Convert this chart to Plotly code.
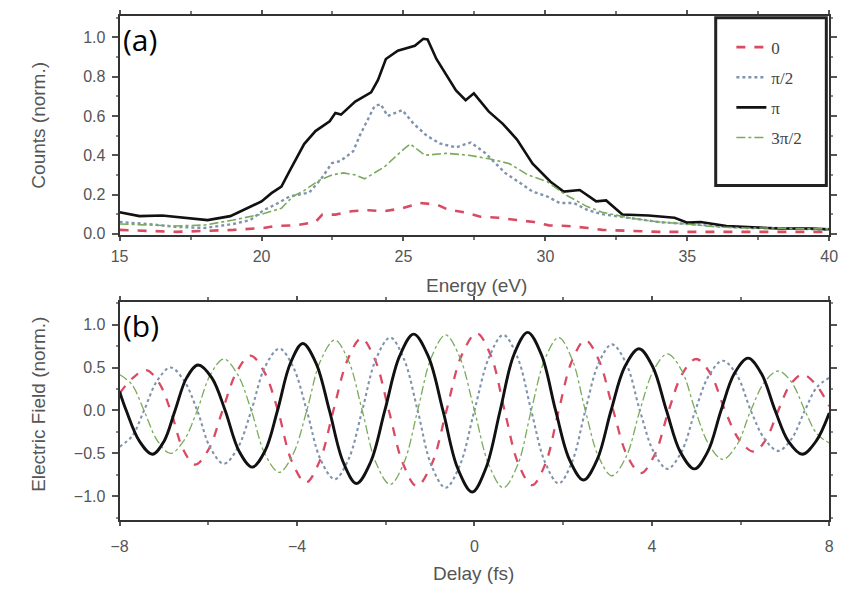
import plotly.graph_objects as go

# ---------------- Panel (a): spectra ----------------
E_pi = [15.0, 15.7, 16.5, 17.1, 18.1, 18.9, 19.4, 20.0, 20.35, 20.7, 21.0, 21.5, 21.9, 22.4, 22.6, 22.8,
        23.3, 23.86, 24.1, 24.38, 24.8, 25.2, 25.4, 25.7, 25.85, 26.16, 26.5, 26.85, 27.19, 27.48, 28.0,
        28.5, 29.0, 29.55, 30.18, 30.64, 31.21, 31.79, 32.14, 32.71, 33.63, 34.55, 35.0, 35.47, 36.38,
        37.07, 38.23, 39.38, 40.0]
C_pi = [0.11, 0.09, 0.093, 0.085, 0.07, 0.09, 0.123, 0.165, 0.207, 0.24, 0.323, 0.457, 0.523, 0.573, 0.615,
        0.607, 0.673, 0.72, 0.782, 0.89, 0.932, 0.948, 0.957, 0.993, 0.99, 0.89, 0.81, 0.73, 0.68, 0.715,
        0.623, 0.56, 0.48, 0.357, 0.265, 0.215, 0.223, 0.165, 0.17, 0.098, 0.093, 0.082, 0.057, 0.06, 0.04,
        0.035, 0.027, 0.027, 0.023]

E_hp = [15.0, 16.0, 17.0, 18.0, 19.0, 19.6, 20.07, 20.5, 20.99, 21.68, 22.1, 22.48, 22.77, 23.23, 23.46,
        23.69, 23.98, 24.2, 24.44, 24.96, 25.36, 25.82, 26.28, 26.85, 27.37, 27.89, 28.58, 29.1, 29.55,
        30.07, 30.5, 31.0, 31.5, 32.0, 33.0, 34.0, 35.0, 36.0, 37.0, 38.0, 39.0, 40.0]
C_hp = [0.06, 0.05, 0.035, 0.03, 0.05, 0.07, 0.12, 0.15, 0.19, 0.21, 0.28, 0.36, 0.37, 0.42, 0.5, 0.57,
        0.65, 0.66, 0.6, 0.63, 0.56, 0.5, 0.46, 0.44, 0.465, 0.41, 0.31, 0.26, 0.215, 0.19, 0.157, 0.157,
        0.12, 0.1, 0.08, 0.06, 0.05, 0.04, 0.03, 0.03, 0.025, 0.02]

E_3hp = [15.0, 16.0, 17.0, 18.0, 19.0, 20.0, 20.7, 21.1, 21.5, 22.0, 22.48, 22.88, 23.3, 23.63, 24.32,
         25.0, 25.24, 25.76, 26.5, 27.3, 28.1, 28.74, 29.38, 30.07, 30.7, 31.45, 32.0, 33.0, 34.0, 35.0,
         36.0, 37.0, 38.0, 39.0, 40.0]
C_3hp = [0.05, 0.045, 0.04, 0.045, 0.07, 0.1, 0.13, 0.19, 0.22, 0.27, 0.30, 0.31, 0.30, 0.28, 0.34, 0.43,
         0.457, 0.40, 0.41, 0.40, 0.38, 0.357, 0.30, 0.265, 0.2, 0.14, 0.11, 0.08, 0.06, 0.05, 0.035, 0.03,
         0.03, 0.025, 0.025]

E_0 = [15.0, 16.0, 17.0, 18.0, 19.0, 20.07, 20.5, 21.2, 21.9, 22.14, 22.6, 23.17, 23.75, 24.32, 24.96,
       25.59, 26.2, 26.57, 27.14, 27.71, 28.34, 28.98, 29.6, 30.13, 30.76, 31.5, 32.0, 33.0, 34.0, 36.0,
       38.0, 40.0]
C_0 = [0.02, 0.015, 0.01, 0.015, 0.02, 0.03, 0.04, 0.043, 0.06, 0.098, 0.098, 0.115, 0.12, 0.115, 0.13,
       0.157, 0.148, 0.123, 0.11, 0.087, 0.082, 0.07, 0.06, 0.043, 0.04, 0.03, 0.02, 0.015, 0.01, 0.01,
       0.01, 0.01]

# ---------------- Panel (b): electric fields ----------------
t_pi = [-8.0, -7.85, -7.55, -7.26, -7.0, -6.75, -6.49, -6.23, -5.92, -5.62, -5.31, -5.01, -4.72, -4.44,
        -4.15, -3.87, -3.57, -3.27, -2.96, -2.66, -2.34, -2.02, -1.69, -1.37, -1.04, -0.71, -0.38, -0.05,
        0.26, 0.58, 0.89, 1.2, 1.51, 1.83, 2.14, 2.46, 2.77, 3.08, 3.39, 3.71, 4.02, 4.33, 4.64, 4.96,
        5.26, 5.56, 5.86, 6.17, 6.47, 6.78, 7.08, 7.39, 7.7, 8.0]
F_pi = [0.22, 0.0, -0.36, -0.51, -0.36, 0.0, 0.38, 0.53, 0.38, 0.0, -0.47, -0.66, -0.47, 0.0,
        0.55, 0.78, 0.55, 0.0, -0.6, -0.85, -0.6, 0.0, 0.63, 0.89, 0.63, 0.0, -0.67, -0.95,
        -0.67, 0.0, 0.65, 0.91, 0.65, 0.0, -0.57, -0.81, -0.57, 0.0, 0.51, 0.72, 0.51, 0.0, -0.48, -0.68,
        -0.48, 0.0, 0.43, 0.61, 0.43, 0.0, -0.36, -0.51, -0.36, -0.03]

t_0 = [-8.0, -7.7, -7.4, -7.12, -6.85, -6.57, -6.3, -5.99, -5.68, -5.36, -5.05, -4.74, -4.43, -4.12,
       -3.8, -3.49, -3.18, -2.86, -2.55, -2.24, -1.93, -1.61, -1.3, -0.96, -0.63, -0.29, 0.05, 0.37,
       0.68, 0.99, 1.3, 1.6, 1.9, 2.2, 2.5, 2.81, 3.13, 3.44, 3.75, 4.06, 4.38, 4.69, 5.0, 5.32, 5.65,
       5.97, 6.3, 6.57, 6.85, 7.12, 7.4, 7.7, 8.0]
F_0 = [0.2, 0.38, 0.47, 0.33, 0.0, -0.45, -0.63, -0.45, 0.0, 0.45, 0.64, 0.45, 0.0, -0.59,
       -0.84, -0.59, 0.0, 0.59, 0.84, 0.59, 0.0, -0.62, -0.88, -0.62, 0.0, 0.64, 0.9, 0.64,
       0.0, -0.62, -0.87, -0.62, 0.0, 0.58, 0.82, 0.58, 0.0, -0.52, -0.73, -0.52, 0.0, 0.43, 0.6, 0.43, 0.0,
       -0.34, -0.48, -0.34, 0.0, 0.3, 0.42, 0.3, 0.05]

t_hp = [-8.0, -7.72, -7.45, -7.15, -6.85, -6.55, -6.25, -5.95, -5.65, -5.34, -5.03, -4.72, -4.4, -4.09,
        -3.78, -3.47, -3.15, -2.84, -2.53, -2.22, -1.9, -1.59, -1.28, -0.97, -0.65, -0.33, 0.0, 0.33,
        0.65, 0.97, 1.28, 1.59, 1.9, 2.2, 2.5, 2.8, 3.1, 3.42, 3.73, 4.04, 4.35, 4.67, 4.98, 5.29, 5.6,
        5.92, 6.23, 6.54, 6.85, 7.15, 7.45, 7.72, 8.0]
F_hp = [-0.42, -0.3, 0.0, 0.35, 0.5, 0.35, 0.0, -0.44, -0.62, -0.44, 0.0, 0.51, 0.72, 0.51,
        0.0, -0.57, -0.8, -0.57, 0.0, 0.6, 0.85, 0.6, 0.0, -0.64, -0.9, -0.64, 0.0, 0.62,
        0.88, 0.62, 0.0, -0.6, -0.85, -0.6, 0.0, 0.55, 0.77, 0.55, 0.0, -0.48, -0.68, -0.48, 0.0, 0.41, 0.58,
        0.41, 0.0, -0.33, -0.47, -0.33, 0.0, 0.27, 0.38]

t_3hp = [-8.0, -7.72, -7.45, -7.15, -6.85, -6.55, -6.25, -5.95, -5.65, -5.34, -5.03, -4.72, -4.4, -4.09,
         -3.78, -3.47, -3.15, -2.84, -2.53, -2.22, -1.9, -1.59, -1.28, -0.97, -0.65, -0.33, 0.0, 0.33,
         0.65, 0.97, 1.28, 1.59, 1.9, 2.2, 2.5, 2.8, 3.1, 3.42, 3.73, 4.04, 4.35, 4.67, 4.98, 5.29, 5.6,
         5.92, 6.23, 6.54, 6.85, 7.15, 7.45, 7.72, 8.0]
F_3hp = [0.42, 0.3, 0.0, -0.35, -0.5, -0.35, 0.0, 0.42, 0.6, 0.42, 0.0, -0.51, -0.72, -0.51,
         0.0, 0.58, 0.82, 0.58, 0.0, -0.61, -0.86, -0.61, 0.0, 0.62, 0.88, 0.62, 0.0, -0.64,
         -0.9, -0.64, 0.0, 0.6, 0.85, 0.6, 0.0, -0.54, -0.76, -0.54, 0.0, 0.47, 0.66, 0.47, 0.0, -0.4, -0.57,
         -0.4, 0.0, 0.33, 0.46, 0.33, 0.0, -0.27, -0.38]

names = ["0", "π/2", "π", "3π/2"]
colors = ["#d94a63", "#7f93ad", "#111111", "#7aab5c"]
dashes = ["dash", "dot", "solid", "dashdot"]
widths = [2.6, 2.4, 2.6, 1.6]

W, H = 850, 597
def px(x):
    return x / W
def py(y):
    return 1 - y / H

fig = go.Figure()

spectra = [(E_0, C_0), (E_hp, C_hp), (E_pi, C_pi), (E_3hp, C_3hp)]
fields = [(t_0, F_0), (t_hp, F_hp), (t_pi, F_pi), (t_3hp, F_3hp)]

for i, (xs, ys) in enumerate(spectra):
    fig.add_trace(go.Scatter(x=xs, y=ys, mode="lines", name=names[i], xaxis="x", yaxis="y",
                             line=dict(color=colors[i], dash=dashes[i], width=widths[i]),
                             legendgroup=names[i]))
for i in [0, 1, 3, 2]:
    xs, ys = fields[i]
    fig.add_trace(go.Scatter(x=xs, y=ys, mode="lines", name=names[i], xaxis="x2", yaxis="y2",
                             line=dict(color=colors[i], dash=dashes[i],
                                       width=(widths[i] - 0.3) if i != 2 else 2.9,
                                       shape="spline", smoothing=1.0),
                             showlegend=False))

tickfont = dict(family="Liberation Sans, Arial, sans-serif", size=16, color="#555555")
axis_common = dict(showline=True, linecolor="#333333", linewidth=2, mirror="ticks", ticks="outside",
                   tickwidth=1.5, tickcolor="#555555", showgrid=False, zeroline=False,
                   tickfont=tickfont)

fig.update_layout(
    width=W, height=H, margin=dict(l=0, r=0, t=0, b=0),
    paper_bgcolor="white", plot_bgcolor="white",
    xaxis=dict(domain=[px(113), px(838)], anchor="y", range=[15, 40], dtick=5, tick0=15, ticklen=4,
               ticklabelstandoff=2,
               minor=dict(dtick=2.5, ticks="outside", ticklen=3, tickcolor="#777777"), **axis_common),
    yaxis=dict(domain=[py(238), py(16)], anchor="x", range=[-0.005, 1.11], dtick=0.2, tick0=0, ticklen=6,
               ticklabelstandoff=3, tickformat=".1f",
               minor=dict(dtick=0.1, ticks="outside", ticklen=2, tickcolor="#888888"),
               **axis_common),
    xaxis2=dict(domain=[px(113), px(838)], anchor="y2", range=[-8, 8], dtick=4, tick0=-8, ticklen=4,
                ticklabelstandoff=7,
                minor=dict(dtick=2, ticks="outside", ticklen=3, tickcolor="#777777"), **axis_common),
    yaxis2=dict(domain=[py(527), py(306)], anchor="x2", range=[-1.275, 1.265], dtick=0.5, tick0=0,
                ticklen=6, ticklabelstandoff=3, tickformat=".1f",
                minor=dict(dtick=0.25, ticks="outside", ticklen=2, tickcolor="#888888"),
                **axis_common),
    showlegend=True,
    legend=dict(x=px(738), y=py(30), xanchor="left", yanchor="top", bgcolor="rgba(0,0,0,0)",
                borderwidth=0, tracegroupgap=5,
                font=dict(family="Liberation Serif, Times New Roman, serif", size=17, color="#444444")),
)

# legend frame
fig.add_shape(type="rect", xref="paper", yref="paper", x0=px(722), x1=px(835), y0=py(188), y1=py(18),
              line=dict(color="#222222", width=3), fillcolor="rgba(0,0,0,0)")

title_font = dict(family="Liberation Sans, Arial, sans-serif", size=19, color="#555555")
ann = dict(xref="paper", yref="paper", showarrow=False, xanchor="center", yanchor="middle")
fig.add_annotation(text="Energy (eV)", x=px(478), y=py(289), font=title_font, **ann)
fig.add_annotation(text="Delay (fs)", x=px(475), y=py(581), font=title_font, **ann)
fig.add_annotation(text="Counts (norm.)", x=px(30), y=py(127), textangle=-90, font=title_font, **ann)
fig.add_annotation(text="Electric Field (norm.)", x=px(30), y=py(410), textangle=-90, font=title_font, **ann)

panel_font = dict(family="Open Sans, Noto Sans, sans-serif", size=30, color="#000000")
fig.add_annotation(text="(a)", x=px(115), y=py(18), xref="paper", yref="paper", xanchor="left",
                   yanchor="top", showarrow=False, font=panel_font, bgcolor="white", borderpad=0)
fig.add_annotation(text="(b)", x=px(115), y=py(308), xref="paper", yref="paper", xanchor="left",
                   yanchor="top", showarrow=False, font=panel_font, bgcolor="white", borderpad=0)

fig.write_html("out.html")
